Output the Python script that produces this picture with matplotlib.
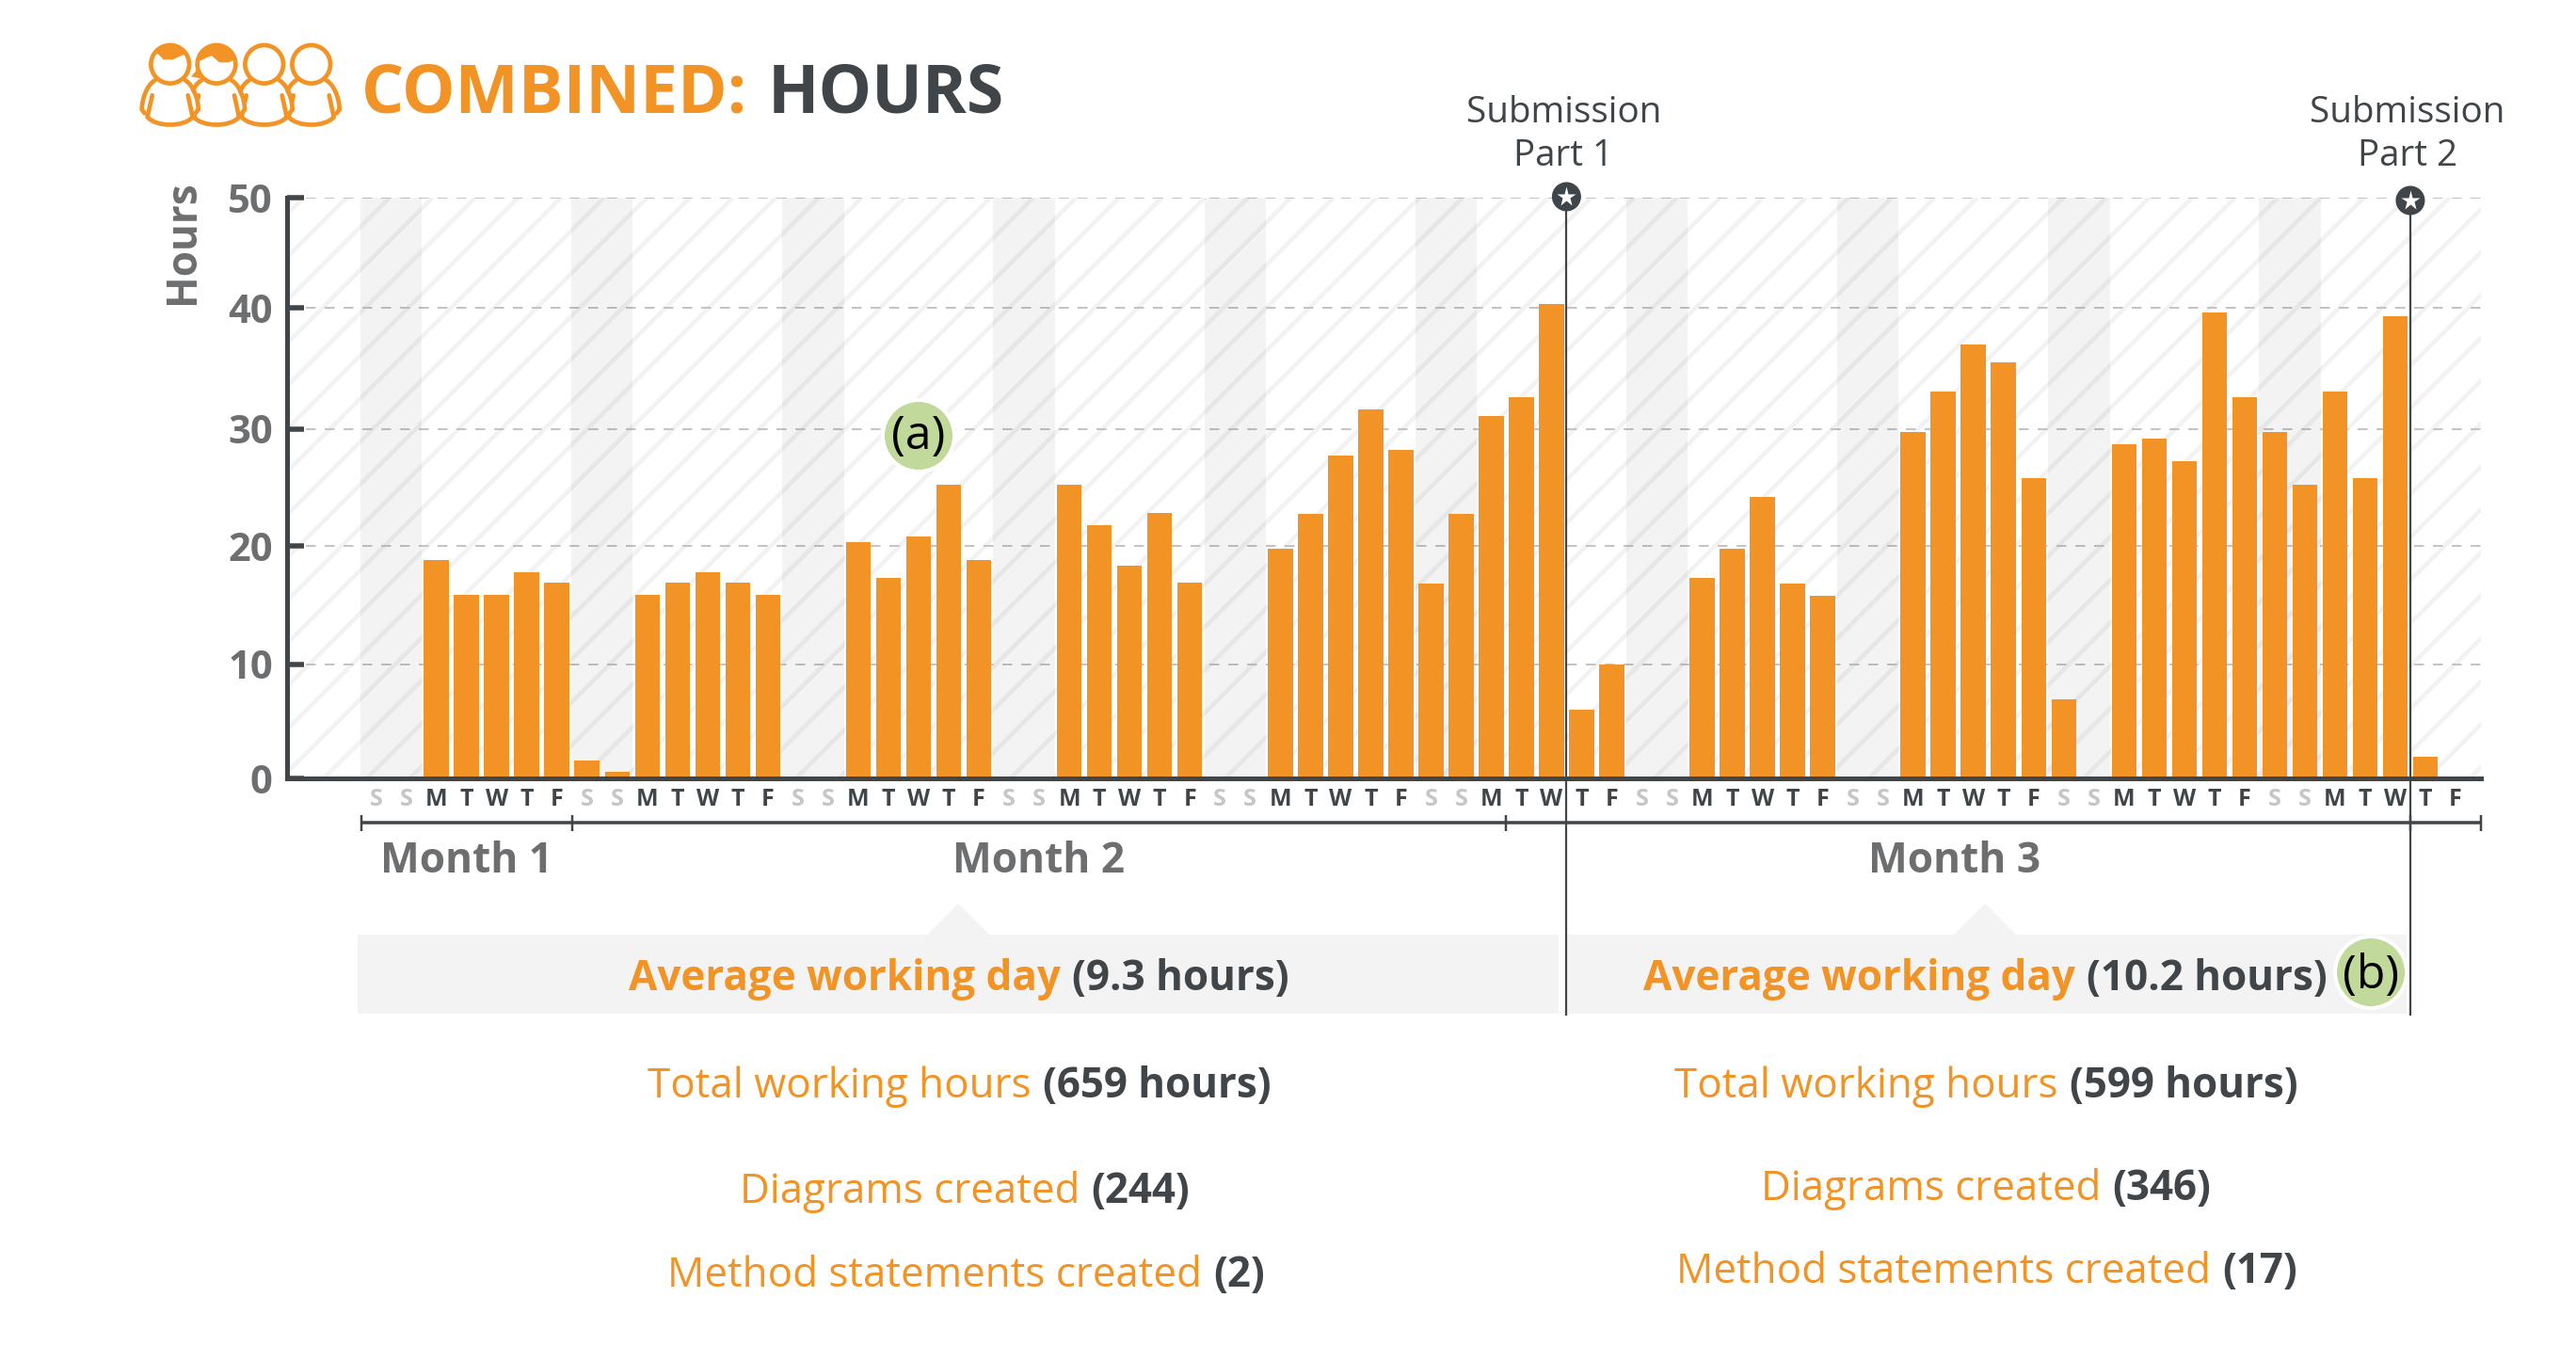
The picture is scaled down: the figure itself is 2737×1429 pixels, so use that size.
import numpy as np
import matplotlib
matplotlib.use("Agg")
import matplotlib.pyplot as plt
from matplotlib.patches import Rectangle, Circle, Polygon, PathPatch
from matplotlib.path import Path

plt.rcParams["font.family"] = ["Open Sans", "DejaVu Sans"]

ORANGE = "#f29325"
DARK = "#3f4549"
GREY = "#6d6e70"
PT = 0.72  # one pixel in points at dpi 100

day_labels = ["S", "S", "M", "T", "W", "T", "F"] * 10
hours = [0, 0, 18.8, 15.9, 15.9, 17.8, 16.9,
         1.6, 0.6, 15.9, 16.9, 17.8, 16.9, 15.9,
         0, 0, 20.3, 17.3, 20.8, 25.2, 18.8,
         0, 0, 25.2, 21.8, 18.3, 22.8, 16.9,
         0, 0, 19.8, 22.7, 27.7, 31.6, 28.2,
         16.8, 22.7, 31.1, 32.6, 40.3, 6, 10,
         0, 0, 17.3, 19.8, 24.2, 16.8, 15.8,
         0, 0, 29.7, 33.1, 37, 35.5, 25.8,
         6.9, 0, 28.7, 29.2, 27.2, 39.6, 32.6,
         29.7, 25.2, 33.1, 25.8, 39.3, 1.9, 0]
y_ticks = [0, 10, 20, 30, 40, 50]
# the gridlines in the reference are not evenly spaced
y_tick_heights = [0, 121.3, 247, 371.3, 500, 617]

months = ["Month 1", "Month 2", "Month 3"]
month_centres = [496, 1103, 2077]
month_edges = [-0.5, 6.5, 37.5, 67.5, 69.84]
submission_days = [39.5, 67.5]
submission_names = [("Submission", "Part 1"), ("Submission", "Part 2")]

W, H = 2737, 1429
fig = plt.figure(figsize=((W + 0.01) / 100, (H + 0.01) / 100), dpi=100, facecolor="white")

# pixel space layers, behind and in front of the chart
back = fig.add_axes([0, 0, 1, 1], zorder=0)
back.set_xlim(0, W)
back.set_ylim(H, 0)
back.axis("off")
over = fig.add_axes([0, 0, 1, 1], zorder=2)
over.set_xlim(0, W)
over.set_ylim(H, 0)
over.axis("off")

L, R, T, B = 305, 2636, 210, 827
ax = fig.add_axes([L / W, 1 - B / H, (R - L) / W, (B - T) / H], zorder=1)
ax.patch.set_alpha(0)

# diagonal stripes
clip = Rectangle((L, T), R - L, B - T, transform=back.transData)
for x_top in np.arange(368.3 - 45.6 * 2, R + (B - T), 45.6):
    line, = back.plot([x_top, x_top - (B - T)], [T, B], color="#f2f2f2", lw=4.5 * PT,
                      solid_capstyle="butt")
    line.set_clip_path(clip)

ax.set_yscale("function", functions=(
    lambda v: np.interp(v, y_ticks, y_tick_heights),
    lambda p: np.interp(p, y_tick_heights, y_ticks),
))
ax.set_xlim(-2.955, 69.84)
ax.set_ylim(0, 50)

for start in range(0, 70, 7):
    ax.axvspan(start - 0.52, start + 1.52, color="black", alpha=0.047, lw=0, zorder=1)
ax.grid(axis="y", color="#c4c4c4", lw=2 * PT, dashes=(5.25, 4.75), zorder=2)
ax.set_axisbelow(True)
ax.bar(range(70), hours, width=0.83, color=ORANGE, edgecolor="none", zorder=3)

ax.set_yticks(y_ticks)
ax.set_yticklabels(y_ticks, fontsize=30, fontweight="bold", color=GREY)
ax.tick_params(axis="y", direction="in", length=18 * PT, width=5.5 * PT, color=DARK, pad=11)
ax.set_xticks(range(70))
ax.set_xticklabels(day_labels, fontsize=18, fontweight="bold")
ax.tick_params(axis="x", length=0, pad=7)
for lab in ax.get_xticklabels():
    lab.set_color("#c6c6c6" if lab.get_text() == "S" else DARK)
for side in ("top", "right"):
    ax.spines[side].set_visible(False)
for side in ("left", "bottom"):
    ax.spines[side].set_color(DARK)
    ax.spines[side].set_linewidth(5 * PT)
    ax.spines[side].set_zorder(5)

over.text(194, 257, "Hours", rotation=90, fontsize=31.7, fontweight="bold", color=GREY,
          ha="center", va="center")


def day_x(d):
    return 399.6 + 32.02 * d


# month bracket
over.plot([day_x(month_edges[0]), day_x(month_edges[-1])], [874.5, 874.5], color=DARK, lw=3.5 * PT,
          solid_capstyle="butt")
for d in month_edges:
    over.plot([day_x(d), day_x(d)], [866, 883], color=DARK, lw=2.5 * PT, solid_capstyle="butt")
for name, cx in zip(months, month_centres):
    over.text(cx, 927, name, fontsize=31.8, fontweight="bold", color=GREY, ha="center", va="baseline")

# average boxes with small pointers
box_color = "#f3f3f3"
over.add_patch(Rectangle((380, 993), 1276, 84, fc=box_color, ec="none", zorder=1))
over.add_patch(Rectangle((1665, 993), 892, 84, fc=box_color, ec="none", zorder=1))
over.add_patch(Polygon([(985, 993), (1018, 960), (1051, 993)], fc=box_color, ec="none", zorder=1))
over.add_patch(Polygon([(2076, 993), (2109, 960), (2142, 993)], fc=box_color, ec="none", zorder=1))

# submission markers
for d, cy, names in zip(submission_days, [209, 213], submission_names):
    x = day_x(d)
    over.plot([x, x], [cy, 1079], color=DARK, lw=2.2 * PT, zorder=4, solid_capstyle="butt")
    over.add_patch(Circle((x, cy), 15.5, fc=DARK, ec="none", zorder=5))
    over.plot([x], [cy], marker="*", ms=22 * PT, color="white", mec="none", zorder=6)
    over.text(x - 3, 120, names[0], fontsize=27.8, color=DARK, ha="center", va="center")
    over.text(x - 3, 166, names[1], fontsize=27.8, color=DARK, ha="center", va="center")

# green note bubbles
for cx, cy, note, dy in [(976, 463, "(a)", 1), (2519, 1033, "(b)", 4)]:
    over.add_patch(Circle((cx, cy), 38, fc="#c1d99b", ec="white", lw=4 * PT, zorder=6))
    over.text(cx, cy + dy, note, fontsize=36, color="black", ha="center", va="center", zorder=7)


def segments(x, y, parts, size):
    renderer = fig.canvas.get_renderer()
    for text, color, weight in parts:
        t = over.text(x, y, text, fontsize=size, color=color, fontweight=weight, va="baseline", zorder=3)
        x = over.transData.inverted().transform(
            (t.get_window_extent(renderer).x1, 0))[0] + 12


def two_tone(x, y, label, value, size=31.6, first_weight="normal"):
    segments(x, y, [(label, ORANGE, first_weight), (value, DARK, "bold")], size)


segments(384, 119, [("COMBINED:", ORANGE, "bold")], 51.3)
segments(816, 119, [("HOURS", DARK, "bold")], 51.3)

two_tone(668, 1052, "Average working day", "(9.3 hours)", 31.7, "bold")
two_tone(1746, 1052, "Average working day", "(10.2 hours)", 31.7, "bold")
two_tone(688, 1166, "Total working hours", "(659 hours)")
two_tone(1779, 1166, "Total working hours", "(599 hours)")
two_tone(786, 1278, "Diagrams created", "(244)")
two_tone(1871, 1275, "Diagrams created", "(346)")
two_tone(709, 1367, "Method statements created", "(2)")
two_tone(1781, 1363, "Method statements created", "(17)")


# team icon
def arc(start, stop, r=21):
    a = np.radians(np.linspace(start, stop, 30))
    return np.column_stack([r * np.cos(a), -r * np.sin(a)])


hair_a = np.vstack([[(-13, -11), (-7, -5), (3, -5), (14, -10)], arc(30, 145)])
hair_b = np.vstack([[(-17, -4), (-8, -8), (-5, -9), (3, -2), (13, -2), (20, -5)], arc(15, 170)])
ponytail = [(-19, 4), (-27, 13), (-17, 15)]


def person(cx, cy, hair=()):
    lw = 4.7 * PT
    body = np.array([(-16, 17), (-31, 44), (-27, 52), (-24, 58), (0, 64), (24, 58), (27, 52), (31, 44),
                     (16, 17)], float) + (cx, cy)
    over.add_patch(Polygon(body, fc="white", ec="none", zorder=3))
    for sign in (-1, 1):
        shoulder = np.array([(16, 17), (25, 22), (30, 38), (30, 48), (27, 52)], float) * (sign, 1) + (cx, cy)
        over.add_patch(PathPatch(
            Path(shoulder, [Path.MOVETO, Path.CURVE4, Path.CURVE4, Path.CURVE4, Path.LINETO]),
            fc="none", ec=ORANGE, lw=lw, capstyle="round", zorder=3))
    lower = np.array([(-19, 33), (-24, 56), (-15, 67), (15, 67), (24, 56), (19, 33)], float) + (cx, cy)
    over.add_patch(PathPatch(
        Path(lower, [Path.MOVETO, Path.LINETO, Path.CURVE4, Path.CURVE4, Path.CURVE4, Path.LINETO]),
        fc="none", ec=ORANGE, lw=lw, capstyle="round", zorder=3))
    over.add_patch(Circle((cx, cy), 20.3, fc="white", ec=ORANGE, lw=lw, zorder=3))
    for shape in hair:
        over.add_patch(Polygon(np.array(shape, float) + (cx, cy), fc=ORANGE, ec="none", zorder=3))


for cx, shapes in [(330.7, ()), (280.7, ()), (230, (hair_b, ponytail)), (180.7, (hair_a,))]:
    person(cx, 68.3, shapes)

fig.savefig("out.png", dpi=100)
